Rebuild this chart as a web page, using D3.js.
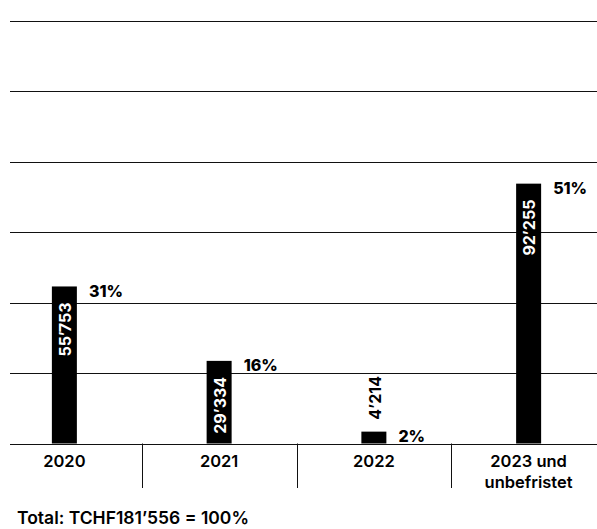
<!DOCTYPE html>
<html>
<head>
<meta charset="utf-8">
<script src="https://cdn.jsdelivr.net/npm/d3@7"></script>
<style>
  html, body { margin: 0; padding: 0; background: #fff; }
  text { font-family: Inter, "Liberation Sans", sans-serif; }
</style>
</head>
<body>
<div id="chartDiv"></div>
<script>
// categories and values (TCHF)
var categories = ['2020', '2021', '2022', '2023 und\nunbefristet'];
var values = [55753, 29334, 4214, 92255];
var yTicks = [0, 25000, 50000, 75000, 100000, 125000, 150000];
var totalLabel = 'Total: TCHF181’556 = 100%';

var w = 597,
  h = 529,
  baseY = 443.5,
  topY = 21,
  barW = 25;

var svg = d3.select('#chartDiv')
  .append('svg')
    .attr('width', w)
    .attr('height', h);

var xScale = d3.scaleBand()
  .domain(categories)
  .range([-13, 606]);

var yScale = d3.scaleLinear()
  .domain([0, 150000])
  .range([baseY, topY]);

var total = d3.sum(values);
var loc = d3.formatLocale({ decimal: '.', thousands: '’', grouping: [3], currency: ['', ''] });
var fmtVal = loc.format(',d');
var fmtPct = d3.format('.0%');

// gridlines
svg.append('g')
  .selectAll('line')
  .data(yTicks)
  .enter().append('line')
    .attr('x1', 10)
    .attr('x2', w)
    .attr('y1', function(d) { return Math.round(yScale(d)) + 0.5; })
    .attr('y2', function(d) { return Math.round(yScale(d)) + 0.5; })
    .attr('stroke', '#111')
    .attr('stroke-width', 1);

// dividers between categories
svg.append('g')
  .selectAll('line')
  .data(categories.slice(1))
  .enter().append('line')
    .attr('x1', function(d) { return Math.round(xScale(d)) + 0.5; })
    .attr('x2', function(d) { return Math.round(xScale(d)) + 0.5; })
    .attr('y1', baseY)
    .attr('y2', 488)
    .attr('stroke', '#111');

var cx = function(d, i) { return xScale(categories[i]) + xScale.bandwidth()/2; };

// bars
svg.append('g')
  .selectAll('rect')
  .data(values)
  .enter().append('rect')
    .attr('x', function(d, i) { return cx(d, i) - barW/2; })
    .attr('y', function(d) { return yScale(d); })
    .attr('width', barW)
    .attr('height', function(d) { return baseY - yScale(d); })
    .attr('fill', '#000');

// values, rotated (inside the bar, or above it when the bar is short)
svg.append('g')
  .selectAll('text')
  .data(values)
  .enter().append('text')
    .attr('transform', function(d, i) {
      var inside = baseY - yScale(d) > 70;
      var y = inside ? yScale(d) + 16 : yScale(d) - 12;
      return 'translate(' + (cx(d, i) + 1) + ',' + y + ') rotate(-90)';
    })
    .attr('text-anchor', function(d) { return baseY - yScale(d) > 70 ? 'end' : 'start'; })
    .attr('dy', '0.36em')
    .attr('fill', function(d) { return baseY - yScale(d) > 70 ? '#fff' : '#000'; })
    .style('font-size', '16px')
    .style('font-weight', 700)
    .text(function(d) { return fmtVal(d); });

// percent labels
svg.append('g')
  .selectAll('text')
  .data(values)
  .enter().append('text')
    .attr('x', function(d, i) { return cx(d, i) + barW/2 + 12; })
    .attr('y', function(d) { return yScale(d) - 2; })
    .attr('dy', '0.76em')
    .style('font-size', '16px')
    .style('font-weight', 800)
    .text(function(d) { return fmtPct(d / total); });

// category labels
var catG = svg.append('g')
  .selectAll('text')
  .data(categories)
  .enter().append('text')
    .attr('x', function(d) { return xScale(d) + xScale.bandwidth()/2; })
    .attr('y', 467)
    .attr('text-anchor', 'middle')
    .style('font-size', '16.5px')
    .style('font-weight', 600);

catG.selectAll('tspan')
  .data(function(d) { return d.split('\n'); })
  .enter().append('tspan')
    .attr('x', function() { var p = this.parentNode; return p.getAttribute('x'); })
    .attr('dy', function(d, i) { return i === 0 ? 0 : 20.5; })
    .text(function(d) { return d; });

// total
svg.append('text')
  .attr('x', 17)
  .attr('y', 524)
  .style('font-size', '17.5px')
  .style('font-weight', 600)
  .text(totalLabel);
</script>
</body>
</html>
